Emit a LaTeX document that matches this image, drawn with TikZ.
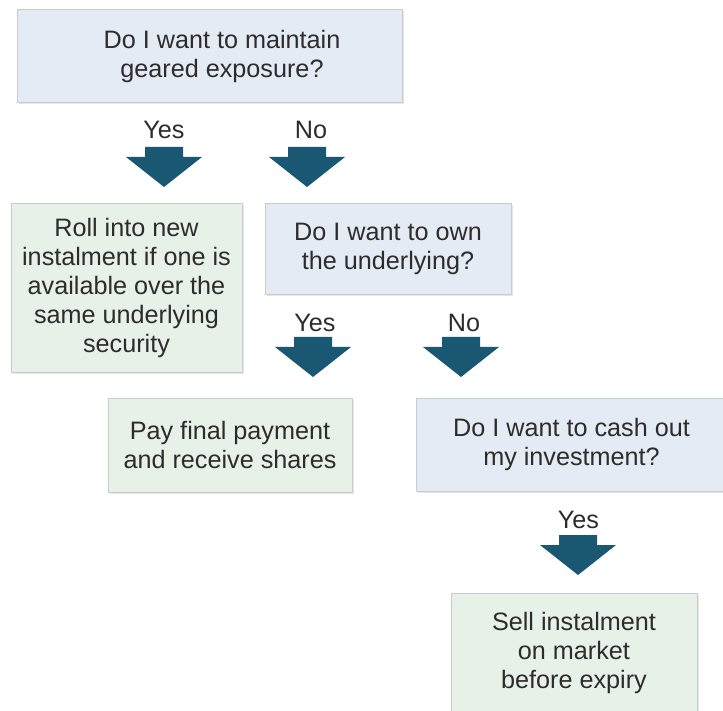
\documentclass[tikz,border=0pt]{standalone}
\usepackage{fontspec}
\setmainfont{Liberation Sans}
\usetikzlibrary{shadows}
\definecolor{qfill}{HTML}{E5EBF4}
\definecolor{afill}{HTML}{E8F1E7}
\definecolor{boxline}{HTML}{C8CBCF}
\definecolor{arrowblue}{HTML}{195773}
\definecolor{txtgray}{HTML}{2C2C2C}
\begin{document}
\begin{tikzpicture}[x=1pt,y=-1pt,
      txt/.style={font=\fontsize{25.2}{29}\selectfont,text=txtgray,align=center,inner sep=0pt},
      qbox/.style={txt,draw=boxline,fill=qfill,line width=0.8pt,
        drop shadow={shadow xshift=2pt,shadow yshift=-2pt,opacity=.2}},
      abox/.style={qbox,fill=afill},
      ans/.style={txt,anchor=base}]
      \useasboundingbox (0,0) rectangle (723,711);
      \clip (0,0) rectangle (723,711);
      % questions
      \node[qbox,minimum width=385,minimum height=93] (gear) at (209.5,55.5) {};
      \node[txt] (geartxt) at (222,56.5) {Do I want to maintain\\geared exposure?};
      \node[qbox,minimum width=246,minimum height=91] (own) at (388,248.5)
        {Do I want to own\\the underlying?};
      \node[qbox,minimum width=330,minimum height=93] (cash) at (581,444.5) {};
      \node[txt] (cashtxt) at (571.5,444.5) {Do I want to cash out\\my investment?};
      % outcomes
      \node[abox,minimum width=231,minimum height=169] (roll) at (126.5,287.5)
        {Roll into new\\instalment if one is\\available over the\\same underlying\\security};
      \node[abox,minimum width=244,minimum height=94] (pay) at (230,445)
        {Pay final payment\\and receive shares};
      \node[abox,minimum width=246,minimum height=120] (sell) at (574,653)
        {Sell instalment\\on market\\before expiry};
      % answers
      \node[ans] (gearyes) at (164,139) {Yes};
      \node[ans] (gearno) at (311,139) {No};
      \node[ans] (ownyes) at (315,331) {Yes};
      \node[ans] (ownno) at (464,331) {No};
      \node[ans] (cashyes) at (578.5,528) {Yes};
      % block arrows
      \foreach \ax/\ay in {164/147,307/147,313/337,461/337,578/535}
        \fill[arrowblue] (\ax-19,\ay) -- (\ax+19,\ay) -- (\ax+19,\ay+10)
          -- (\ax+38,\ay+10) -- (\ax,\ay+40) -- (\ax-38,\ay+10)
          -- (\ax-19,\ay+10) -- cycle;
     \end{tikzpicture}
\end{document}
